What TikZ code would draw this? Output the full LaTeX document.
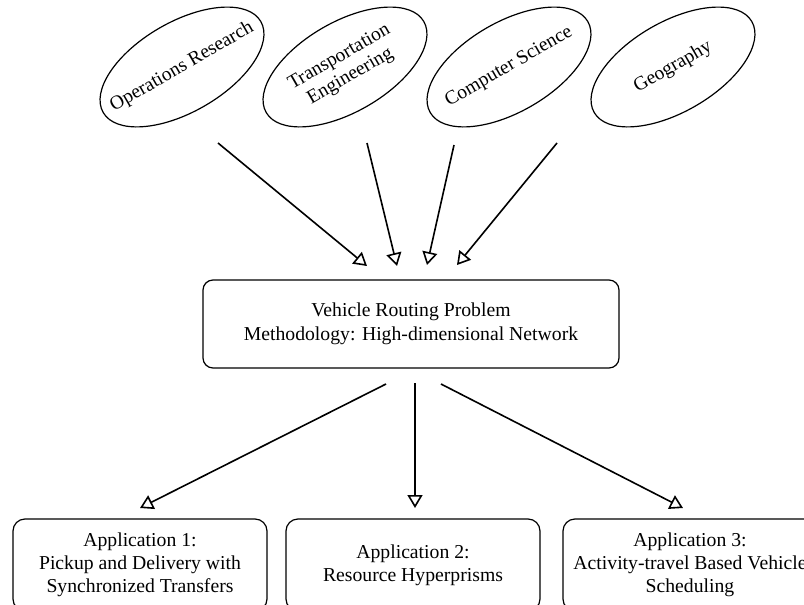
\documentclass[tikz,border=0pt]{standalone}
\usepackage{fontspec}
\setmainfont{Liberation Serif}
\usetikzlibrary{arrows.meta,shapes.geometric}
\begin{document}
\begin{tikzpicture}[x=1pt,y=-1pt,
  field/.style={ellipse, draw, line width=1.2pt, rotate=30,
    minimum width=182pt, minimum height=90pt, inner sep=0pt},
  fieldtext/.style={rotate=30, inner sep=0pt, align=center,
    font=\fontsize{19.5}{22}\selectfont},
  hub/.style={draw, rounded corners=10pt, line width=1.2pt,
    minimum width=416pt, minimum height=88pt, inner sep=0pt,
    align=center, font=\fontsize{19.7}{24}\selectfont},
  appbox/.style={draw, rounded corners=12pt, line width=1.2pt,
    minimum width=254pt, minimum height=92pt, inner sep=0pt,
    align=center, font=\fontsize{19.7}{23}\selectfont},
  link/.style={line width=1.6pt, -{Triangle[open, length=13pt, width=15pt]}}]
\useasboundingbox (0,0) rectangle (804,605);

% disciplines: outline and tilted label
\node[field] (or) at (182,67) {};
\node[fieldtext] (or-t) at (or) {Operations Research};
\node[field] (te) at (345,67) {};
\node[fieldtext] (te-t) at (te) {Transportation\\Engineering};
\node[field] (cs) at (509,67) {};
\node[fieldtext] (cs-t) at (cs) {Computer Science};
\node[field] (geo) at (673,67) {};
\node[fieldtext] (geo-t) at (geo) {Geography};

% central problem
\node[hub] (vrp) at (411,324) {Vehicle Routing Problem\\Methodology: High-dimensional Network};

% applications
\node[appbox] (app1) at (140,565) {Application 1:\\Pickup and Delivery with\\Synchronized Transfers};
\node[appbox] (app2) at (413,565) {Application 2:\\Resource Hyperprisms};
\node[appbox] (app3) at (690,565) {Application 3:\\Activity-travel Based Vehicle\\Scheduling};

% arrow ends
\coordinate (or-s) at (218,143);
\coordinate (te-s) at (367,143);
\coordinate (cs-s) at (454,145);
\coordinate (geo-s) at (557,143);
\coordinate (vrp-a) at (367,266);
\coordinate (vrp-b) at (397,266);
\coordinate (vrp-c) at (427,265);
\coordinate (vrp-d) at (457,265);

\coordinate (vrp-l) at (386,384);
\coordinate (vrp-m) at (415,383);
\coordinate (vrp-r) at (441,384);
\coordinate (app1-t) at (140,508);
\coordinate (app2-t) at (415,508);
\coordinate (app3-t) at (683,508);

\draw[link] (or-s) -- (vrp-a);
\draw[link] (te-s) -- (vrp-b);
\draw[link] (cs-s) -- (vrp-c);
\draw[link] (geo-s) -- (vrp-d);

\draw[link] (vrp-l) -- (app1-t);
\draw[link] (vrp-m) -- (app2-t);
\draw[link] (vrp-r) -- (app3-t);
\end{tikzpicture}
\end{document}
